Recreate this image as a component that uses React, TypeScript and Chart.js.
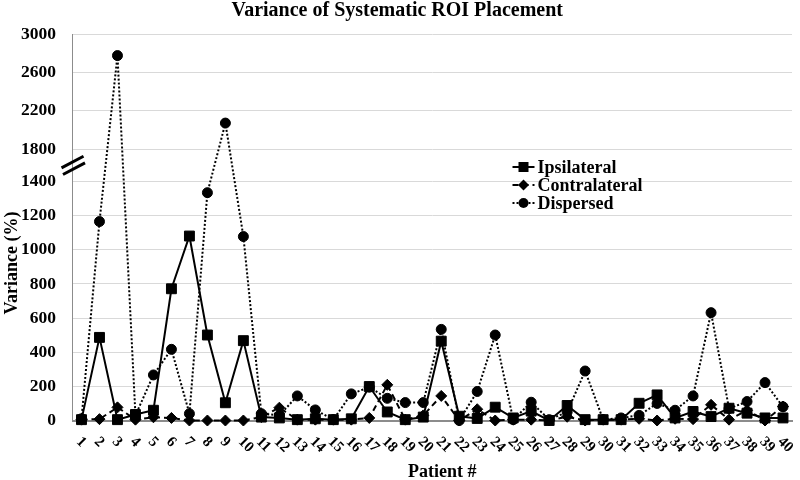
import { useEffect, useRef } from "react";
import { Chart, registerables } from "chart.js";

Chart.register(...registerables);

const FONT = '"Liberation Serif", "Times New Roman", serif';

const patients = [
  "1", "2", "3", "4", "5", "6", "7", "8", "9", "10",
  "11", "12", "13", "14", "15", "16", "17", "18", "19", "20",
  "21", "22", "23", "24", "25", "26", "27", "28", "29", "30",
  "31", "32", "33", "34", "35", "36", "37", "38", "39", "40",
];

const ipsilateral = [
  5, 487, 5, 35, 60, 772, 1081, 501, 104, 468,
  20, 15, 5, 10, 5, 10, 199, 50, 5, 20,
  465, 25, 12, 78, 15, 55, 0, 88, 5, 5,
  5, 101, 150, 15, 53, 23, 72, 43, 15, 15,
];

const contralateral = [
  5, 8, 77, 5, 19, 15, 0, 0, 0, 0,
  20, 75, 5, 5, 5, 5, 15, 209, 5, 30,
  144, 0, 66, 0, 5, 5, 0, 22, 0, 5,
  5, 10, 0, 10, 8, 92, 5, 60, 0, 82,
];

const dispersed = [
  10, 1166, 2775, 30, 267, 417, 40, 1335, 2072, 1078,
  40, 30, 144, 62, 5, 156, 195, 130, 105, 105,
  534, 0, 170, 501, 5, 107, 5, 50, 290, 5,
  15, 30, 100, 60, 144, 632, 70, 111, 222, 80,
];

const yTickValues = [0, 200, 400, 600, 800, 1000, 1200, 1400, 1800, 2200, 2600, 3000];
const yTickLabels = ["0", "200", "400", "600", "800", "1000", "1200", "1400", "1800", "2200", "2600", "3000"];

const seriesNames = ["Ipsilateral", "Contralateral", "Dispersed"];

// broken axis: linear up to 1400, compressed gap 1400-1800, compressed scale above 1800
const BREAK_LOW = 1400;
const BREAK_HIGH = 1800;
function toAxis(v: number): number {
  if (v <= BREAK_LOW) return v;
  if (v <= BREAK_HIGH) return BREAK_LOW + (v - BREAK_LOW) * 0.475;
  return BREAK_LOW + (BREAK_HIGH - BREAK_LOW) * 0.475 + (v - BREAK_HIGH) * 0.5625;
}

const decorPlugin = {
  id: "decor",
  afterDraw(chart: any) {
    const { ctx, chartArea, scales } = chart;
    const xs = scales.x;
    const ys = scales.y;
    ctx.save();
    ctx.fillStyle = "#000";

    // rotated x tick labels
    ctx.font = `bold 15px ${FONT}`;
    ctx.textAlign = "left";
    ctx.textBaseline = "middle";
    patients.forEach((p, i) => {
      const px = xs.getPixelForTick(i);
      ctx.save();
      ctx.translate(px - 3, chartArea.bottom + 19);
      ctx.rotate(Math.PI / 4);
      ctx.fillText(p, 0, 0);
      ctx.restore();
    });

    // axis titles
    ctx.font = `bold 18px ${FONT}`;
    ctx.textAlign = "center";
    ctx.fillText("Patient #", (chartArea.left + chartArea.right) / 2 + 10, chartArea.bottom + 52);
    ctx.save();
    ctx.translate(12, chartArea.top + 229);
    ctx.rotate(-Math.PI / 2);
    ctx.fillText("Variance (%)", 0, 0);
    ctx.restore();

    // axis break marks
    const yb = (ys.getPixelForValue(toAxis(BREAK_LOW)) + ys.getPixelForValue(toAxis(BREAK_HIGH))) / 2;
    ctx.strokeStyle = "#000";
    ctx.lineWidth = 3;
    [[0, -3.3], [1.5, 3.3]].forEach(([dx, dy]) => {
      const cx = chartArea.left + dx;
      const cy = yb + dy;
      ctx.beginPath();
      ctx.moveTo(cx - 11, cy + 5.8);
      ctx.lineTo(cx + 11, cy - 5.8);
      ctx.stroke();
    });

    // legend
    const lx0 = chartArea.left + 440;
    const lx1 = chartArea.left + 462;
    const mx = (lx0 + lx1) / 2;
    const rows = [chartArea.top + 133, chartArea.top + 151, chartArea.top + 169];
    const dashes = [[], [6, 4], [2, 2]];
    ctx.font = `bold 18px ${FONT}`;
    ctx.textAlign = "left";
    ctx.textBaseline = "middle";
    seriesNames.forEach((name, i) => {
      const ry = rows[i];
      ctx.save();
      ctx.setLineDash(dashes[i]);
      ctx.lineWidth = 2;
      ctx.beginPath();
      ctx.moveTo(lx0, ry);
      ctx.lineTo(lx1, ry);
      ctx.stroke();
      ctx.restore();
      ctx.beginPath();
      if (i === 0) {
        ctx.rect(mx - 5, ry - 5, 10, 10);
      } else if (i === 1) {
        ctx.moveTo(mx, ry - 5.5);
        ctx.lineTo(mx + 5.5, ry);
        ctx.lineTo(mx, ry + 5.5);
        ctx.lineTo(mx - 5.5, ry);
        ctx.closePath();
      } else {
        ctx.arc(mx, ry, 5, 0, Math.PI * 2);
      }
      ctx.fill();
      ctx.fillText(name, lx1 + 3, ry + 1);
    });

    ctx.restore();
  },
};

export default function App() {
  const canvasRef = useRef<HTMLCanvasElement | null>(null);

  useEffect(() => {
    if (!canvasRef.current) return;
    const chart = new Chart(canvasRef.current, {
      type: "line",
      data: {
        labels: patients,
        datasets: [
          {
            label: seriesNames[0],
            data: ipsilateral.map(toAxis),
            borderColor: "#000",
            backgroundColor: "#000",
            borderWidth: 2,
            pointStyle: "rect",
            pointRadius: 7,
            pointBorderWidth: 1,
            tension: 0,
            clip: false,
          },
          {
            label: seriesNames[1],
            data: contralateral.map(toAxis),
            borderColor: "#000",
            backgroundColor: "#000",
            borderWidth: 2,
            borderDash: [6, 4],
            pointStyle: "rectRot",
            pointRadius: 5.5,
            pointBorderWidth: 1,
            tension: 0,
            clip: false,
          },
          {
            label: seriesNames[2],
            data: dispersed.map(toAxis),
            borderColor: "#000",
            backgroundColor: "#000",
            borderWidth: 2,
            borderDash: [2, 2],
            pointStyle: "circle",
            pointRadius: 5,
            pointBorderWidth: 1,
            tension: 0,
            clip: false,
          },
        ],
      },
      options: {
        responsive: true,
        maintainAspectRatio: false,
        animation: false,
        events: [],
        layout: { padding: { left: 0, right: 5.5, top: 0, bottom: 0 } },
        plugins: {
          legend: { display: false },
          tooltip: { enabled: false },
          title: {
            display: true,
            text: "Variance of Systematic ROI Placement",
            color: "#000",
            font: { family: FONT, size: 20, weight: "bold", lineHeight: 1 },
            padding: { top: 1, bottom: 13 },
          },
        },
        scales: {
          x: {
            type: "category",
            offset: true,
            grid: { display: false, drawTicks: false },
            border: { display: true, color: "#8c8c8c", width: 2 },
            ticks: { display: false },
            afterFit(scale: any) {
              scale.height = 59.5;
            },
          },
          y: {
            type: "linear",
            min: 0,
            max: toAxis(3000),
            afterBuildTicks(scale: any) {
              scale.ticks = yTickValues.map((v) => ({ value: toAxis(v) }));
            },
            afterFit(scale: any) {
              scale.width = 72.5;
            },
            grid: {
              drawTicks: false,
              color: (c: any) => (c.tick && c.tick.value === 0 ? "rgba(0,0,0,0)" : "#d9d9d9"),
              lineWidth: 1,
            },
            border: { display: true, color: "#8c8c8c", width: 1 },
            ticks: {
              padding: 16.5,
              color: "#000",
              font: { family: FONT, size: 17.5, weight: "bold" },
              callback: (_v: any, i: number) => yTickLabels[i],
            },
          },
        },
      },
      plugins: [decorPlugin],
    });
    return () => chart.destroy();
  }, []);

  return (
    <div style={{ position: "absolute", left: 0, top: 0, width: 800, height: 480 }}>
      <canvas ref={canvasRef} />
    </div>
  );
}
